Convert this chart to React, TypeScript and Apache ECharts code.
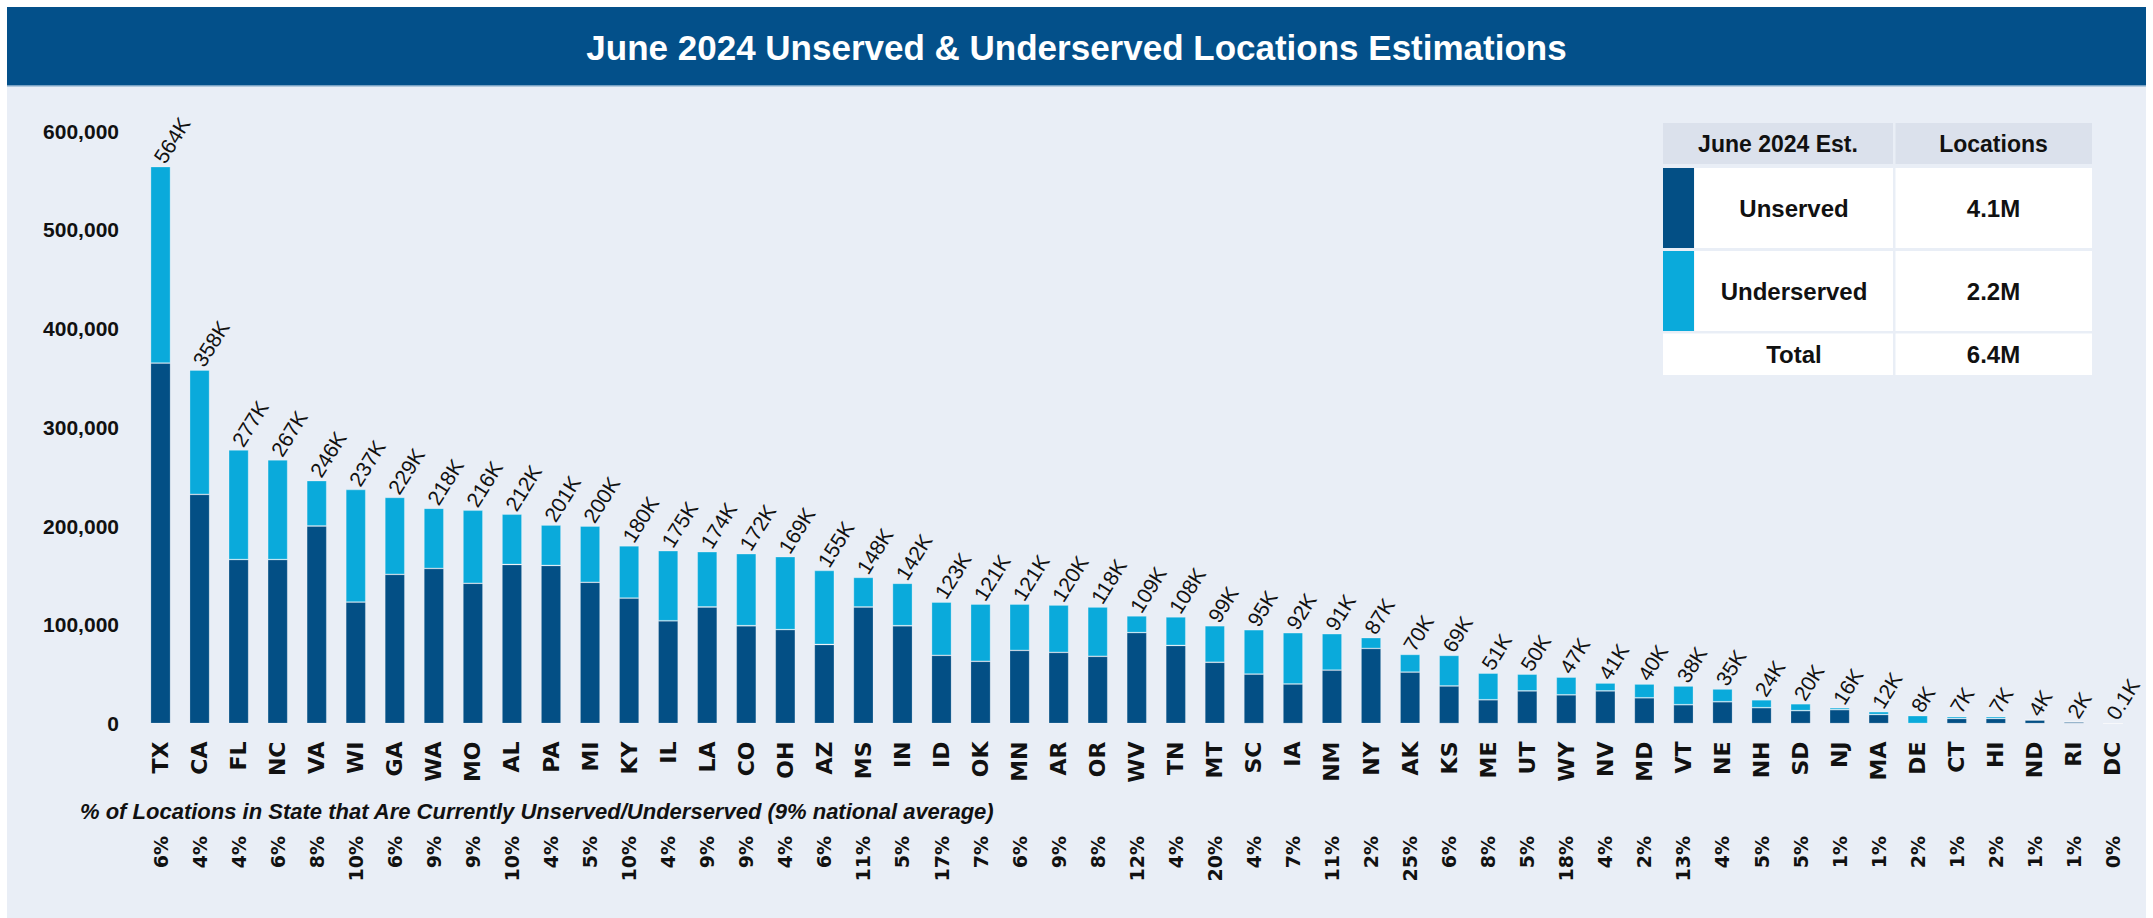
import React, { useEffect, useRef } from "react";
import * as echarts from "echarts";

const states = ["TX","CA","FL","NC","VA","WI","GA","WA","MO","AL","PA","MI","KY","IL","LA","CO","OH","AZ","MS","IN","ID","OK","MN","AR","OR","WV","TN","MT","SC","IA","NM","NY","AK","KS","ME","UT","WY","NV","MD","VT","NE","NH","SD","NJ","MA","DE","CT","HI","ND","RI","DC"];

const unserved = [365000,232000,166000,166000,200000,123000,151000,157000,142000,161000,160000,143000,127000,104000,118000,99000,95000,80000,118000,99000,69000,63000,74000,72000,68000,92000,79000,62000,50000,40000,54000,76000,52000,38000,24000,33000,29000,33000,26000,19000,22000,16000,13000,14000,9000,0,5000,5000,3500,1500,0];

const underserved = [199000,126000,111000,101000,46000,114000,78000,61000,74000,51000,41000,57000,53000,71000,56000,73000,74000,75000,30000,43000,54000,58000,47000,48000,50000,17000,29000,37000,45000,52000,37000,11000,18000,31000,27000,17000,18000,8000,14000,19000,13000,8000,7000,2000,3000,8000,2000,2000,500,500,100];

const totalLabels = ["564K","358K","277K","267K","246K","237K","229K","218K","216K","212K","201K","200K","180K","175K","174K","172K","169K","155K","148K","142K","123K","121K","121K","120K","118K","109K","108K","99K","95K","92K","91K","87K","70K","69K","51K","50K","47K","41K","40K","38K","35K","24K","20K","16K","12K","8K","7K","7K","4K","2K","0.1K"];

const pctValues = [6,4,4,6,8,10,6,9,9,10,4,5,10,4,9,9,4,6,11,5,17,7,6,9,8,12,4,20,4,7,11,2,25,6,8,5,18,4,2,13,4,5,5,1,1,2,1,2,1,1,0];

const tableHeader = ["June 2024 Est.", "Locations"];
const tableRows = [
  { name: "Unserved", value: "4.1M" },
  { name: "Underserved", value: "2.2M" },
  { name: "Total", value: "6.4M" },
];

const title = "June 2024 Unserved & Underserved Locations Estimations";
const subtitle = "% of Locations in State that Are Currently Unserved/Underserved (9% national average)";

const DARK = "#034f85";
const LIGHT = "#0aaadb";
const PANEL = "#e9eef6";
const HEAD = "#dbe1ec";
const SANS = "'Liberation Sans', Arial, sans-serif";
const VERD = "'DejaVu Sans', Verdana, sans-serif";

export default function App() {
  const ref = useRef<HTMLDivElement>(null);
  useEffect(() => {
    if (!ref.current) return;
    const chart = echarts.init(ref.current, null, { renderer: "svg" });
    const tText = (text: string, x: number, y: number, size: number) => ({
      type: "text",
      x,
      y,
      style: {
        text,
        fill: "#111",
        font: `bold ${size}px ${SANS}`,
        textAlign: "center",
        textVerticalAlign: "middle",
      },
    });
    const graphic: any[] = [
      { type: "rect", shape: { x: 7, y: 86, width: 2139, height: 840 }, style: { fill: PANEL }, z: -10 },
      { type: "rect", shape: { x: 7, y: 7, width: 2139, height: 79 }, style: { fill: "#03508a" }, z: -9 },
      { type: "line", shape: { x1: 7, y1: 86, x2: 2146, y2: 86 }, style: { stroke: "#9fbdd6", lineWidth: 1.5 }, z: -8 },
      {
        type: "text",
        x: 1076.5,
        y: 47,
        style: { text: title, fill: "#fff", font: `bold 35px ${SANS}`, textAlign: "center", textVerticalAlign: "middle" },
      },
      {
        type: "text",
        x: 80,
        y: 811,
        style: { text: subtitle, fill: "#111", font: `italic bold 22px ${SANS}`, textAlign: "left", textVerticalAlign: "middle" },
      },
      // table
      { type: "rect", shape: { x: 1663, y: 123, width: 230, height: 41 }, style: { fill: HEAD } },
      { type: "rect", shape: { x: 1895.5, y: 123, width: 196.5, height: 41 }, style: { fill: HEAD } },
      tText(tableHeader[0], 1778, 143.5, 23),
      tText(tableHeader[1], 1993.5, 143.5, 23),
      { type: "rect", shape: { x: 1663, y: 168, width: 31, height: 80 }, style: { fill: DARK } },
      { type: "rect", shape: { x: 1694.5, y: 168, width: 198.5, height: 80 }, style: { fill: "#fff" } },
      { type: "rect", shape: { x: 1895.5, y: 168, width: 196.5, height: 80 }, style: { fill: "#fff" } },
      tText(tableRows[0].name, 1794, 208, 24),
      tText(tableRows[0].value, 1993.5, 208, 24),
      { type: "rect", shape: { x: 1663, y: 251, width: 31, height: 80 }, style: { fill: LIGHT } },
      { type: "rect", shape: { x: 1694.5, y: 251, width: 198.5, height: 80 }, style: { fill: "#fff" } },
      { type: "rect", shape: { x: 1895.5, y: 251, width: 196.5, height: 80 }, style: { fill: "#fff" } },
      tText(tableRows[1].name, 1794, 291, 24),
      tText(tableRows[1].value, 1993.5, 291, 24),
      { type: "rect", shape: { x: 1663, y: 333.5, width: 230, height: 41.5 }, style: { fill: "#fff" } },
      { type: "rect", shape: { x: 1895.5, y: 333.5, width: 196.5, height: 41.5 }, style: { fill: "#fff" } },
      tText(tableRows[2].name, 1794, 354.5, 24),
      tText(tableRows[2].value, 1993.5, 354.5, 24),
    ];

    chart.setOption({
      animation: false,
      backgroundColor: "#ffffff",
      graphic,
      grid: { left: 141, right: 20.5, top: 131, bottom: 194.5, containLabel: false },
      xAxis: [
        {
          type: "category",
          data: states,
          axisLine: { show: false },
          axisTick: { show: false },
          axisLabel: {
            rotate: 90,
            margin: 18,
            interval: 0,
            color: "#111",
            fontFamily: VERD,
            fontWeight: "bold",
            fontSize: 22,
          },
        },
        {
          type: "category",
          position: "bottom",
          offset: 104.5,
          data: pctValues.map((p) => p + "%"),
          axisLine: { show: false },
          axisTick: { show: false },
          axisLabel: {
            rotate: 90,
            margin: 8,
            interval: 0,
            color: "#111",
            fontFamily: VERD,
            fontWeight: "bold",
            fontSize: 19,
          },
        },
      ],
      yAxis: {
        type: "value",
        min: 0,
        max: 600000,
        interval: 100000,
        splitLine: { show: false },
        axisLine: { show: false },
        axisTick: { show: false },
        axisLabel: {
          margin: 22,
          color: "#111",
          fontFamily: SANS,
          fontWeight: "bold",
          fontSize: 21,
          formatter: (v: number) => v.toLocaleString("en-US"),
        },
      },
      series: [
        {
          name: "Unserved",
          type: "bar",
          stack: "total",
          data: unserved,
          barWidth: 20,
          itemStyle: { color: DARK, borderColor: "rgba(255,255,255,0.25)", borderWidth: 0.8 },
        },
        {
          name: "Underserved",
          type: "bar",
          stack: "total",
          data: underserved,
          barWidth: 20,
          itemStyle: { color: LIGHT, borderColor: "rgba(255,255,255,0.35)", borderWidth: 0.8 },
          label: {
            show: true,
            position: "top",
            distance: 8,
            rotate: 58,
            align: "left",
            verticalAlign: "middle",
            offset: [-3, 0],
            color: "#111",
            fontFamily: SANS,
            fontSize: 21,
            formatter: (p: any) => totalLabels[p.dataIndex],
          },
        },
      ],
    });
    return () => chart.dispose();
  }, []);
  return (
    <div
      ref={ref}
      style={{ position: "fixed", left: 0, top: 0, width: 2153, height: 918 }}
    />
  );
}
